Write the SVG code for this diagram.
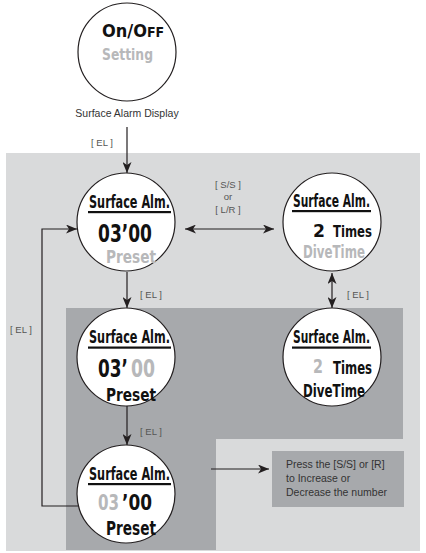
<svg xmlns="http://www.w3.org/2000/svg" width="426" height="553" viewBox="0 0 426 553">
<defs>
<marker id="ah" markerUnits="userSpaceOnUse" markerWidth="11" markerHeight="9" refX="11" refY="4.5" orient="auto-start-reverse">
<path d="M0,0 L11,4.5 L0,9 L3,4.5 z" fill="#231f20"/>
</marker>
<style>
.lcd{font-family:"Liberation Sans Narrow","DejaVu Sans Condensed","Liberation Sans",sans-serif;font-weight:bold;fill:#111}
.dim{fill:#b7b8ba}
.lbl{font-family:"Liberation Sans",Arial,sans-serif;font-size:9.5px;fill:#555}
.node{fill:#fff;stroke:#231f20;stroke-width:1.2}
.conn{stroke:#231f20;stroke-width:1.2;fill:none}
.ul{fill:#111}
</style>
</defs>
<rect width="426" height="553" fill="#fff"/>
<g id="bg">
<rect x="6" y="153" width="414" height="398" fill="#d9dadb"/>
<path d="M66,308 H403 V439 H216 V550 H66 Z" fill="#a7a9ac"/>
</g>

<g id="connectors">
<line class="conn" x1="127" y1="127" x2="127" y2="173" marker-end="url(#ah)"/>
<line class="conn" x1="185" y1="229" x2="274" y2="229" marker-start="url(#ah)" marker-end="url(#ah)"/>
<line class="conn" x1="127" y1="272" x2="127" y2="308" marker-end="url(#ah)"/>
<line class="conn" x1="332" y1="273" x2="332" y2="308" marker-start="url(#ah)" marker-end="url(#ah)"/>
<line class="conn" x1="127" y1="406" x2="127" y2="445" marker-end="url(#ah)"/>
<polyline class="conn" points="78,506 42,506 42,229 77,229" marker-end="url(#ah)"/>
<line class="conn" x1="211" y1="469" x2="269" y2="469" marker-end="url(#ah)"/>
<text class="lbl" x="102" y="146" text-anchor="middle">[ EL ]</text>
<text class="lbl" x="228" y="188" text-anchor="middle">[ S/S ]</text>
<text class="lbl" x="228" y="200" text-anchor="middle">or</text>
<text class="lbl" x="228" y="213" text-anchor="middle">[ L/R ]</text>
<text class="lbl" x="151" y="298" text-anchor="middle">[ EL ]</text>
<text class="lbl" x="358" y="298" text-anchor="middle">[ EL ]</text>
<text class="lbl" x="151" y="435" text-anchor="middle">[ EL ]</text>
<text class="lbl" x="21" y="333" text-anchor="middle">[ EL ]</text>
</g>

<g id="onoff">
<circle class="node" cx="127" cy="52" r="49"/>
<text class="lcd" x="102" y="37" font-size="18">On/O<tspan font-size="14">FF</tspan></text>
<text class="lcd dim" x="102" y="60" font-size="15" textLength="51" lengthAdjust="spacingAndGlyphs">Setting</text>
<text x="127" y="117" text-anchor="middle" style="font-family:'Liberation Sans',Arial,sans-serif;font-size:10.5px;fill:#333">Surface Alarm Display</text>
</g>

<g id="alm-preset">
<circle class="node" cx="126" cy="222" r="49"/>
<text class="lcd" x="89" y="208" font-size="18" textLength="81" lengthAdjust="spacingAndGlyphs">Surface Alm.</text>
<rect class="ul" x="88" y="211" width="83" height="2.2"/>
<text class="lcd" x="98" y="242" font-size="25" textLength="54" lengthAdjust="spacingAndGlyphs">03’00</text>
<text class="lcd dim" x="106" y="263" font-size="17.5" textLength="50" lengthAdjust="spacingAndGlyphs">Preset</text>
</g>

<g id="alm-times">
<circle class="node" cx="332" cy="222" r="49"/>
<text class="lcd" x="293" y="207" font-size="18" textLength="77" lengthAdjust="spacingAndGlyphs">Surface Alm.</text>
<rect class="ul" x="292" y="210" width="79" height="2.2"/>
<text class="lcd" x="313" y="237" font-size="18" textLength="12" lengthAdjust="spacingAndGlyphs">2</text>
<text class="lcd" x="333" y="237" font-size="16" textLength="39" lengthAdjust="spacingAndGlyphs">Times</text>
<text class="lcd dim" x="303" y="258" font-size="17" textLength="62" lengthAdjust="spacingAndGlyphs">DiveTime</text>
</g>

<g id="alm-minutes">
<circle class="node" cx="126" cy="357" r="49"/>
<text class="lcd" x="89" y="343" font-size="18" textLength="81" lengthAdjust="spacingAndGlyphs">Surface Alm.</text>
<rect class="ul" x="88" y="346.5" width="83" height="2.2"/>
<text class="lcd" transform="translate(98,377) scale(0.83,1)" x="0" y="0" font-size="24" textLength="36" lengthAdjust="spacingAndGlyphs">03’</text>
<text class="lcd dim" transform="translate(131,377) scale(0.8,1)" x="0" y="0" font-size="24" textLength="30" lengthAdjust="spacingAndGlyphs">00</text>
<text class="lcd" x="106" y="401" font-size="18.5" textLength="50" lengthAdjust="spacingAndGlyphs">Preset</text>
</g>

<g id="alm-times-edit">
<circle class="node" cx="332" cy="357" r="49"/>
<text class="lcd" x="293" y="343" font-size="18" textLength="77" lengthAdjust="spacingAndGlyphs">Surface Alm.</text>
<rect class="ul" x="292" y="346.5" width="79" height="2.2"/>
<text class="lcd dim" x="313" y="373" font-size="19" textLength="10" lengthAdjust="spacingAndGlyphs">2</text>
<text class="lcd" x="333" y="374" font-size="17" textLength="39" lengthAdjust="spacingAndGlyphs">Times</text>
<text class="lcd" x="303" y="397" font-size="18" textLength="62" lengthAdjust="spacingAndGlyphs">DiveTime</text>
</g>

<g id="alm-tens">
<circle class="node" cx="126" cy="494" r="49"/>
<text class="lcd" x="89" y="480" font-size="18" textLength="81" lengthAdjust="spacingAndGlyphs">Surface Alm.</text>
<rect class="ul" x="88" y="483" width="83" height="2.2"/>
<text class="lcd dim" x="98" y="510" font-size="21" textLength="21" lengthAdjust="spacingAndGlyphs">03</text>
<text class="lcd" x="122" y="510" font-size="21" textLength="30" lengthAdjust="spacingAndGlyphs">’00</text>
<text class="lcd" x="106" y="535" font-size="19" textLength="50" lengthAdjust="spacingAndGlyphs">Preset</text>
</g>

<g id="note">
<rect x="272" y="451" width="132" height="56" fill="#a7a9ac"/>
<text x="286" y="468" style="font-family:'Liberation Sans',Arial,sans-serif;font-size:10.5px;fill:#333">
<tspan x="286" y="468">Press the [S/S] or [R]</tspan>
<tspan x="286" y="482">to Increase or</tspan>
<tspan x="286" y="496">Decrease the number</tspan>
</text>
</g>
</svg>
